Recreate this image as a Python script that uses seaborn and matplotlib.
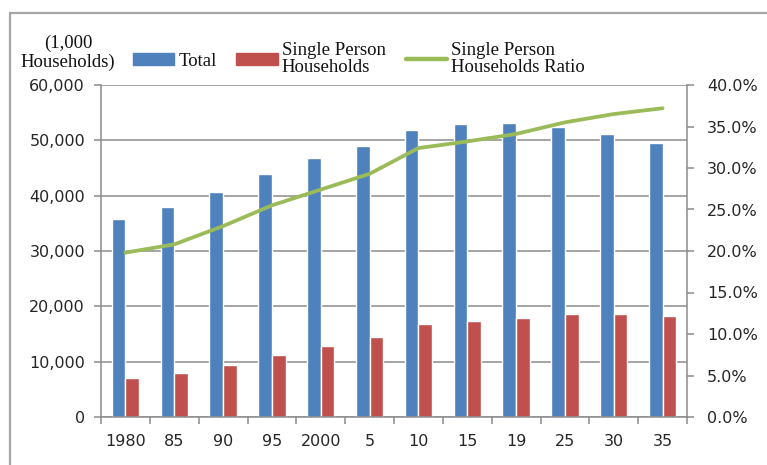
import seaborn as sns
import pandas as pd
import matplotlib.pyplot as plt
import numpy as np
from matplotlib.patches import Rectangle, Patch
from matplotlib.lines import Line2D
from matplotlib.ticker import FuncFormatter, FixedLocator

#-----------------------------------------------------------------------------------------------------------------------
"""Data"""
years = ['1980', '85', '90', '95', '2000', '5', '10', '15', '19', '25', '30', '35']
total = [35824, 37980, 40670, 43900, 46782, 49063, 51842, 52904, 53070, 52439, 51231, 49555]
single = [7105, 7895, 9390, 11239, 12911, 14457, 16785, 17370, 17900, 18550, 18600, 18250]
ratio = [19.8, 20.8, 23.0, 25.5, 27.4, 29.3, 32.4, 33.2, 34.1, 35.5, 36.5, 37.2]

series_names = ['Total', 'Single Person\nHouseholds']

#-----------------------------------------------------------------------------------------------------------------------
"""Style"""
sns.set_style('white')
plt.rcParams['font.family'] = ['DejaVu Sans']
SerifFont = 'Liberation Serif'

blue = '#4F81BD'
red = '#C0504D'
green = '#9BBB59'
gridcol = '#8C8C8C'
textcol = '#262626'

long = pd.DataFrame({
    'year': years * 2,
    'series': [series_names[0]] * len(years) + [series_names[1]] * len(years),
    'value': total + single,
})

#-----------------------------------------------------------------------------------------------------------------------
"""Figure"""
fig = plt.figure(figsize=(7.67, 4.65), dpi=100)
ax = fig.add_axes([101 / 767, 1 - 417 / 465, 586 / 767, 332 / 465])

sns.barplot(data=long, x='year', y='value', hue='series', order=years, hue_order=series_names,
            palette=[blue, red], width=0.56, saturation=1, gap=0, ax=ax, legend=False)

ax.set_ylim(0, 60000)
ax.set_xlim(-0.5, len(years) - 0.5)
ax.set_yticks(np.arange(0, 60001, 10000))
ax.yaxis.set_major_formatter(FuncFormatter(lambda v, p: f'{v:,.0f}'))
ax.grid(axis='y', color=gridcol, lw=1.1)
ax.set_axisbelow(True)
ax.set_xlabel('')
ax.set_ylabel('')

#Ticks between categories
ax.xaxis.set_minor_locator(FixedLocator(np.arange(-0.5, len(years), 1)))
ax.tick_params(axis='x', which='major', length=0, pad=12, labelsize=11.5, labelcolor=textcol)
ax.tick_params(axis='x', which='minor', length=5, width=1.1, color=gridcol, direction='out', bottom=True)
ax.tick_params(axis='y', length=5, width=1.1, color=gridcol, direction='out', left=True, pad=6.5,
               labelsize=11.5, labelcolor=textcol)

for s in ['top', 'right']:
    ax.spines[s].set_visible(False)
for s in ['left', 'bottom']:
    ax.spines[s].set_color(gridcol)
    ax.spines[s].set_linewidth(1.1)

#Ratio line on second axis
ax2 = ax.twinx()
sns.lineplot(x=np.arange(len(years)), y=ratio, ax=ax2, color=green, lw=2.7)
ax2.set_ylim(0, 40)
ax2.set_yticks(np.arange(0, 40.1, 5))
ax2.yaxis.set_major_formatter(FuncFormatter(lambda v, p: f'{v:.1f}%'))
ax2.tick_params(axis='y', length=5, width=1.1, color=gridcol, direction='out', right=True, pad=9.5,
                labelsize=11.5, labelcolor=textcol)
for s in ['top', 'left', 'bottom']:
    ax2.spines[s].set_visible(False)
ax2.spines['right'].set_color(gridcol)
ax2.spines['right'].set_linewidth(1.1)
ax2.set_xlim(-0.5, len(years) - 0.5)

#-----------------------------------------------------------------------------------------------------------------------
"""Legend and labels"""
handles = [Patch(color=blue), Patch(color=red), Line2D([], [], color=green, lw=3.2)]
labels = ['Total', 'Single Person\nHouseholds', 'Single Person\nHouseholds Ratio']
leg = fig.legend(handles, labels, ncol=3, loc='center left', bbox_to_anchor=(133 / 767, 1 - 59 / 465),
                 frameon=False, borderpad=0, borderaxespad=0, handlelength=2.2, handleheight=0.55,
                 handletextpad=0.22, columnspacing=1.05, prop={'family': SerifFont, 'size': 13.5})
for t in leg.get_texts():
    t.set_linespacing(0.95)
    t.set_color('#111111')

fig.text(68 / 767, 1 - 53 / 465, '(1,000\nHouseholds)', ha='center', va='center', family=SerifFont,
         fontsize=13.5, linespacing=1.1, color='#111111')

#Outer frame
fig.patches.append(Rectangle((10 / 767, -0.1), 1.2, 1.1 - 13 / 465, transform=fig.transFigure,
                             fill=False, edgecolor='#A6A6A6', lw=1.6, clip_on=False))

fig.savefig('out.png', dpi=100)
